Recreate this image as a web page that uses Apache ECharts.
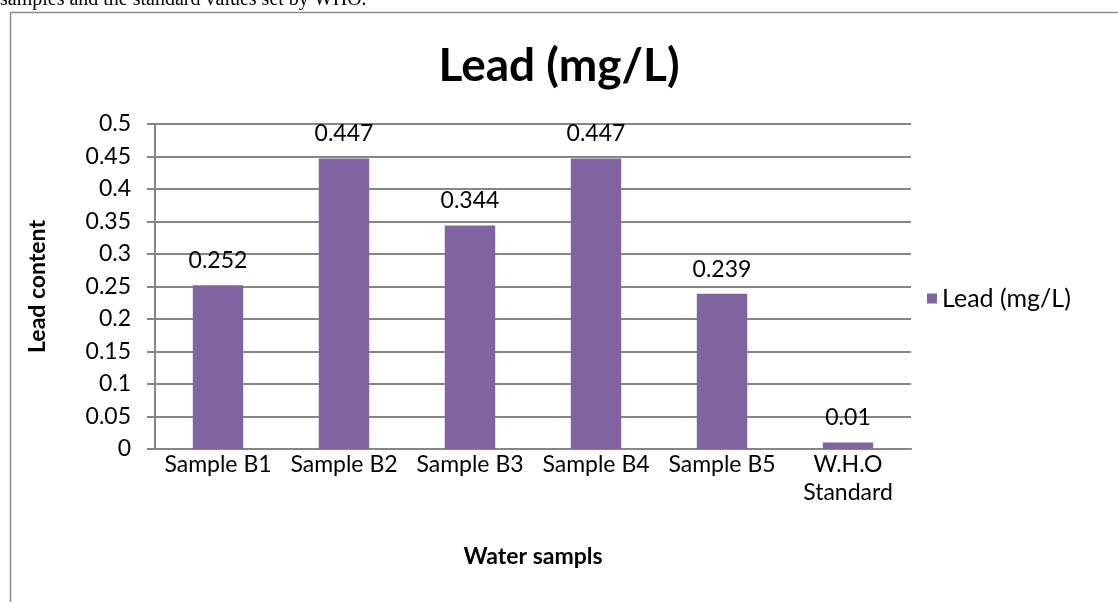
<!DOCTYPE html>
<html>
<head>
<meta charset="utf-8">
<script src="https://cdn.jsdelivr.net/npm/echarts@6/dist/echarts.min.js"></script>
<style>
  html, body { margin: 0; padding: 0; background: #fff; }
  #chart-container { width: 1118px; height: 602px; }
</style>
</head>
<body>
<div id="chart-container"></div>
<script>
// values
const categories = ['Sample B1', 'Sample B2', 'Sample B3', 'Sample B4', 'Sample B5', 'W.H.O\nStandard'];
const leadValues = [0.252, 0.447, 0.344, 0.447, 0.239, 0.01];
const yTicks = { min: 0, max: 0.5, interval: 0.05 };

const chartContainer = document.getElementById('chart-container');
const myChart = echarts.init(chartContainer, null, { renderer: 'canvas' });

const font = 'Lato, "Open Sans", sans-serif';

let option = {
  animation: false,
  backgroundColor: '#fff',
  title: {
    text: 'Lead (mg/L)',
    left: 'center',
    top: 38,
    textStyle: { fontFamily: font, fontSize: 46, fontWeight: 'bold', color: '#000' }
  },
  graphic: [
    {
      type: 'rect',
      shape: { x: 10.5, y: 12.5, width: 1300, height: 800 },
      style: { fill: 'none', stroke: '#8c8c8c', lineWidth: 1.5 },
      silent: true
    },
    {
      type: 'text',
      x: 0,
      y: 0,
      style: {
        text: 'samples and the standard values set by WHO.',
        font: '20px "Liberation Serif", "DejaVu Serif", serif',
        fill: '#000',
        verticalAlign: 'middle'
      },
      silent: true
    }
  ],
  legend: {
    data: ['Lead (mg/L)'],
    orient: 'vertical',
    left: 922,
    top: 281,
    icon: 'rect',
    itemWidth: 10,
    itemHeight: 10,
    itemGap: 6,
    textStyle: { fontFamily: font, fontSize: 25, color: '#000' }
  },
  grid: { left: 155, top: 124, right: 207, bottom: 153, containLabel: false },
  xAxis: {
    type: 'category',
    data: categories,
    name: 'Water sampls',
    nameLocation: 'middle',
    nameGap: 96,
    nameTextStyle: { fontFamily: font, fontSize: 23, fontWeight: 'bold', color: '#000' },
    axisLine: { lineStyle: { color: '#868686', width: 2 } },
    axisTick: { show: false },
    axisLabel: { interval: 0, margin: 2, fontFamily: font, fontSize: 23, lineHeight: 28, color: '#000' }
  },
  yAxis: {
    type: 'value',
    min: yTicks.min,
    max: yTicks.max,
    interval: yTicks.interval,
    name: 'Lead content',
    nameLocation: 'middle',
    nameGap: 106,
    nameTextStyle: { fontFamily: font, fontSize: 23, fontWeight: 'bold', color: '#000' },
    axisLine: { show: true, lineStyle: { color: '#868686', width: 2 } },
    axisTick: { show: true, inside: false, length: 8, lineStyle: { color: '#868686', width: 2 } },
    splitLine: { lineStyle: { color: '#868686', width: 2 } },
    axisLabel: {
      margin: 24,
      fontFamily: font,
      fontSize: 23,
      color: '#000',
      formatter: v => String(Number(v.toFixed(2)))
    }
  },
  series: [
    {
      name: 'Lead (mg/L)',
      type: 'bar',
      data: leadValues,
      barWidth: '40%',
      itemStyle: { color: '#8064A2' },
      label: {
        show: true,
        position: 'top',
        distance: 13,
        fontFamily: font,
        fontSize: 23,
        color: '#000'
      }
    }
  ]
};

myChart.setOption(option);
window.addEventListener('resize', myChart.resize);
</script>
</body>
</html>
